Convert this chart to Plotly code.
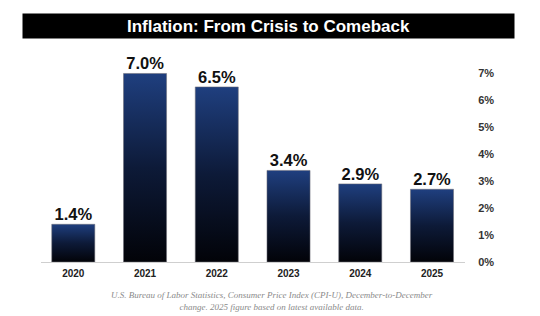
import plotly.graph_objects as go

years = ["2020", "2021", "2022", "2023", "2024", "2025"]
inflation = [1.4, 7.0, 6.5, 3.4, 2.9, 2.7]
labels = ["1.4%", "7.0%", "6.5%", "3.4%", "2.9%", "2.7%"]
ytick_vals = [0, 1, 2, 3, 4, 5, 6, 7]
ytick_text = ["0%", "1%", "2%", "3%", "4%", "5%", "6%", "7%"]
title_text = "Inflation: From Crisis to Comeback"
source_text = ("U.S. Bureau of Labor Statistics, Consumer Price Index (CPI-U), December-to-December<br>"
               "change. 2025 figure based on latest available data.")

SANS = "Liberation Sans, Arial, sans-serif"
half = 0.3

fig = go.Figure()
for i, v in enumerate(inflation):
    fig.add_trace(go.Scatter(
        x=[i - half, i + half, i + half, i - half, i - half],
        y=[0, 0, v, v, 0],
        mode="lines",
        fill="toself",
        line=dict(color="rgba(110,110,120,0.55)", width=1),
        fillgradient=dict(type="vertical",
                          colorscale=[[0, "#020308"], [0.5, "#0d1a38"], [1, "#1f3f7f"]]),
        hoverinfo="skip",
        showlegend=False,
    ))

fig.add_trace(go.Scatter(
    x=list(range(len(years))), y=inflation, mode="text", text=labels,
    textposition="top center", cliponaxis=False,
    textfont=dict(family=SANS, size=16.5, color="#111111", weight="bold"),
    showlegend=False, hoverinfo="skip",
))

fig.add_annotation(
    text="<b>" + title_text + "</b>", xref="paper", yref="paper",
    x=0.5366, y=1.17, xanchor="center", yanchor="middle", showarrow=False,
    bgcolor="#000000", width=491, height=24, borderpad=0,
    font=dict(family=SANS, size=17, color="#ffffff"),
)
fig.add_annotation(
    text="<i>" + source_text + "</i>", xref="paper", yref="paper",
    x=0.545, y=-0.128, xanchor="center", yanchor="top", showarrow=False,
    align="center",
    font=dict(family="Liberation Serif", size=9, color="#8a8a8a"),
)

fig.update_layout(
    width=540, height=316,
    margin=dict(l=41, r=75, t=60, b=54),
    paper_bgcolor="#ffffff", plot_bgcolor="#ffffff",
    xaxis=dict(range=[-0.45, 5.46], tickvals=list(range(len(years))), ticktext=years,
               showgrid=False, zeroline=False, showline=True, linecolor="#cfcfcf", linewidth=1,
               ticks="", ticklabelstandoff=2,
               tickfont=dict(family=SANS, size=10, color="#222222", weight="bold"),
               fixedrange=True),
    yaxis=dict(range=[0, 7.5], side="right", tickvals=ytick_vals, ticktext=ytick_text,
               showgrid=False, zeroline=False, showline=False,
               ticks="outside", ticklen=10, tickcolor="rgba(0,0,0,0)",
               tickfont=dict(family=SANS, size=11, color="#333333", weight="bold"),
               fixedrange=True),
)

fig.write_html("out.html")
